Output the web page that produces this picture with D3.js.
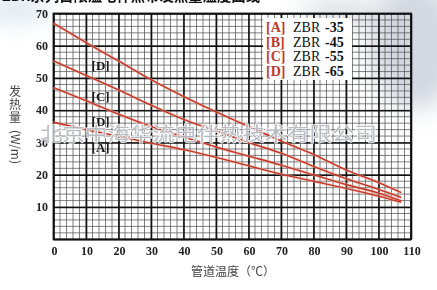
<!DOCTYPE html>
<html>
<head>
<meta charset="utf-8">
<script src="https://cdn.jsdelivr.net/npm/d3@7/dist/d3.min.js"></script>
<style>
body { margin: 0; background: #fff; }
svg { display: block; }
</style>
</head>
<body>
<script>
// temperature (x) and heat output (y)
var temps   = [0, 10, 20, 30, 40, 50, 60, 70, 80, 90, 100, 107];
var seriesD = [67, 61, 55.3, 49.5, 44.3, 39.5, 35, 30.5, 26.3, 21.5, 17.6, 14.5];
var seriesC = [55.3, 50.8, 46.3, 41.6, 37.2, 33.6, 30, 26.7, 22.6, 18.8, 15.5, 13];
var seriesB = [47, 43, 38.8, 35, 31.8, 28.6, 25.8, 23, 20, 17, 14.3, 11.9];
var seriesA = [36.3, 34, 32, 29.8, 27.8, 25.4, 22.8, 20.2, 18, 15.8, 13.4, 11.5];

var curveLabels  = ["[D]", "[C]", "[D]", "[A]"];
var legendKeys   = ["[A]", "[B]", "[C]", "[D]"];
var legendModels = ["ZBR", "ZBR", "ZBR", "ZBR"];
var legendValues = ["-35", "-45", "-55", "-65"];

var xTickLabels = [0, 10, 20, 30, 40, 50, 60, 70, 80, 90, 100, 110];
var yTickLabels = [10, 20, 30, 40, 50, 60, 70];

var w = 437, h = 290;
var plotL = 53.5, plotR = 411, plotT = 13.5, plotB = 239.3;

var svg = d3.select("body").append("svg")
    .attr("width", w)
    .attr("height", h);

var defs = svg.append("defs");
defs.append("filter").attr("id", "blur")
    .attr("x", "-50%").attr("y", "-50%").attr("width", "200%").attr("height", "200%")
    .append("feGaussianBlur").attr("stdDeviation", 12);

// faded photo in the background (top right) and a light tint top left
var bg = svg.append("g").attr("filter", "url(#blur)");
bg.append("ellipse").attr("cx", 415).attr("cy", 45).attr("rx", 45).attr("ry", 65)
    .style("fill", "#aeb8c8").style("opacity", 0.55);
bg.append("ellipse").attr("cx", 340).attr("cy", 12).attr("rx", 40).attr("ry", 8)
    .style("fill", "#8d98aa").style("opacity", 0.5);
bg.append("ellipse").attr("cx", 15).attr("cy", 8).attr("rx", 40).attr("ry", 14)
    .style("fill", "#d6e2ee").style("opacity", 0.8);

// title line, mostly cut off by the top edge
svg.append("text")
    .attr("x", 2)
    .attr("y", 0.5)
    .attr("textLength", 258)
    .attr("lengthAdjust", "spacingAndGlyphs")
    .style("font-family", "'Noto Sans CJK SC', sans-serif")
    .style("font-weight", "bold")
    .style("font-size", "15px")
    .style("fill", "#111")
    .text("ZBR系列自限温电伴热带发热量温度曲线");

var x = d3.scaleLinear().domain([0, 110]).range([plotL, plotR]);
var y = d3.scaleLinear().domain([0, 70]).range([plotB, plotT]);

// minor grid, every 2 units
var minorX = d3.range(0, 111, 2), minorY = d3.range(0, 71, 2);
var grid = svg.append("g").attr("class", "grid");
grid.selectAll(".minorX").data(minorX).enter().append("line")
    .attr("class", "minorX")
    .attr("x1", function(d){ return x(d); }).attr("x2", function(d){ return x(d); })
    .attr("y1", y(0)).attr("y2", y(70))
    .style("stroke", "#4a4a4a").style("stroke-width", 0.7);
grid.selectAll(".minorY").data(minorY).enter().append("line")
    .attr("class", "minorY")
    .attr("y1", function(d){ return y(d); }).attr("y2", function(d){ return y(d); })
    .attr("x1", x(0)).attr("x2", x(110))
    .style("stroke", "#4a4a4a").style("stroke-width", 0.7);

// major grid through axes
var xAxis = d3.axisBottom(x).tickValues(xTickLabels).tickSize(-(plotB - plotT)).tickFormat("");
var yAxis = d3.axisLeft(y).tickValues([0].concat(yTickLabels)).tickSize(-(plotR - plotL)).tickFormat("");

var gx = svg.append("g").attr("transform", "translate(0," + plotB + ")").call(xAxis);
var gy = svg.append("g").attr("transform", "translate(" + plotL + ",0)").call(yAxis);
gx.select(".domain").remove();
gy.select(".domain").remove();
svg.selectAll(".tick line").style("stroke", "#111").style("stroke-width", 1.6);

svg.append("rect")
    .attr("x", plotL).attr("y", plotT)
    .attr("width", plotR - plotL).attr("height", plotB - plotT)
    .style("fill", "none").style("stroke", "#111").style("stroke-width", 1.8);

// tick labels
var tickFont = "'Liberation Serif', 'DejaVu Serif', serif";
svg.selectAll(".xlab").data(xTickLabels).enter().append("text")
    .attr("class", "xlab")
    .attr("x", function(d){ return x(d) + 1; })
    .attr("y", 255)
    .attr("text-anchor", "middle")
    .style("font-family", tickFont).style("font-weight", "bold").style("font-size", "12px")
    .style("fill", "#222")
    .text(function(d){ return d; });

svg.selectAll(".ylab").data(yTickLabels).enter().append("text")
    .attr("class", "ylab")
    .attr("x", 48)
    .attr("y", function(d){ return y(d) + 4; })
    .attr("text-anchor", "end")
    .style("font-family", tickFont).style("font-weight", "bold").style("font-size", "12px")
    .style("fill", "#222")
    .text(function(d){ return d; });

// axis titles
svg.append("text")
    .attr("x", 233).attr("y", 276)
    .attr("text-anchor", "middle")
    .style("font-family", "'Noto Sans CJK SC', sans-serif").style("font-size", "12px")
    .style("fill", "#444")
    .text("管道温度（℃）");

var yTitle = svg.append("g").style("font-family", "'Noto Sans CJK SC', sans-serif")
    .style("font-size", "12px").style("fill", "#444");
["发", "热", "量"].forEach(function(c, i){
    yTitle.append("text")
        .attr("x", 15).attr("y", 96 + i * 13)
        .attr("text-anchor", "middle")
        .text(c);
});
yTitle.append("text")
    .attr("transform", "translate(11,147) rotate(90)")
    .attr("text-anchor", "middle")
    .text("(W/m)");

// curves
var allSeries = [seriesD, seriesC, seriesB, seriesA];
var line = d3.line()
    .x(function(d, i){ return x(temps[i]); })
    .y(function(d){ return y(d); })
    .curve(d3.curveMonotoneX);

svg.selectAll(".halo").data(allSeries).enter().append("path")
    .attr("class", "halo")
    .attr("d", line)
    .style("fill", "none").style("stroke", "#f2a890").style("stroke-width", 2.8).style("opacity", 0.6);
svg.selectAll(".curve").data(allSeries).enter().append("path")
    .attr("class", "curve")
    .attr("d", line)
    .style("fill", "none").style("stroke", "#c2342a").style("stroke-width", 1.4);

// labels just under each curve near 14.5 degrees
var labelT = 14.5;
function valueAt(s, t){
    var i = d3.bisectRight(temps, t) - 1;
    var f = (t - temps[i]) / (temps[i + 1] - temps[i]);
    return s[i] + (s[i + 1] - s[i]) * f;
}
svg.selectAll(".clab").data(allSeries).enter().append("text")
    .attr("class", "clab")
    .attr("x", x(labelT))
    .attr("y", function(d){ return y(valueAt(d, labelT)) + 19; })
    .attr("text-anchor", "middle")
    .style("font-family", tickFont).style("font-weight", "bold").style("font-size", "13px")
    .style("fill", "#1a1a1a")
    .text(function(d, i){ return curveLabels[i]; });

// watermark: light grey glyphs with a white halo
svg.append("text")
    .attr("x", 40).attr("y", 141)
    .attr("textLength", 337)
    .attr("lengthAdjust", "spacingAndGlyphs")
    .style("font-family", "'Noto Sans CJK SC', sans-serif").style("font-size", "19px")
    .style("fill", "#b4b9c1").style("opacity", 0.9)
    .style("stroke", "#fff").style("stroke-width", 1.6)
    .style("paint-order", "stroke")
    .text("北京中海华流电伴热技术有限公司");

// legend
var legend = svg.append("g");
legend.append("rect")
    .attr("x", 263).attr("y", 18).attr("width", 89).attr("height", 62)
    .style("fill", "#fff");
var rows = legend.selectAll(".row").data(legendKeys).enter().append("text")
    .attr("class", "row")
    .attr("x", 266)
    .attr("y", function(d, i){ return 32 + i * 14.6; })
    .style("font-family", tickFont).style("font-size", "14px");
rows.append("tspan").style("fill", "#c0392b").style("font-weight", "bold")
    .text(function(d){ return d; });
rows.append("tspan").attr("x", 293).style("fill", "#111")
    .text(function(d, i){ return legendModels[i]; });
rows.append("tspan").attr("x", 325).style("fill", "#111").style("font-weight", "bold")
    .text(function(d, i){ return legendValues[i]; });
</script>
</body>
</html>
